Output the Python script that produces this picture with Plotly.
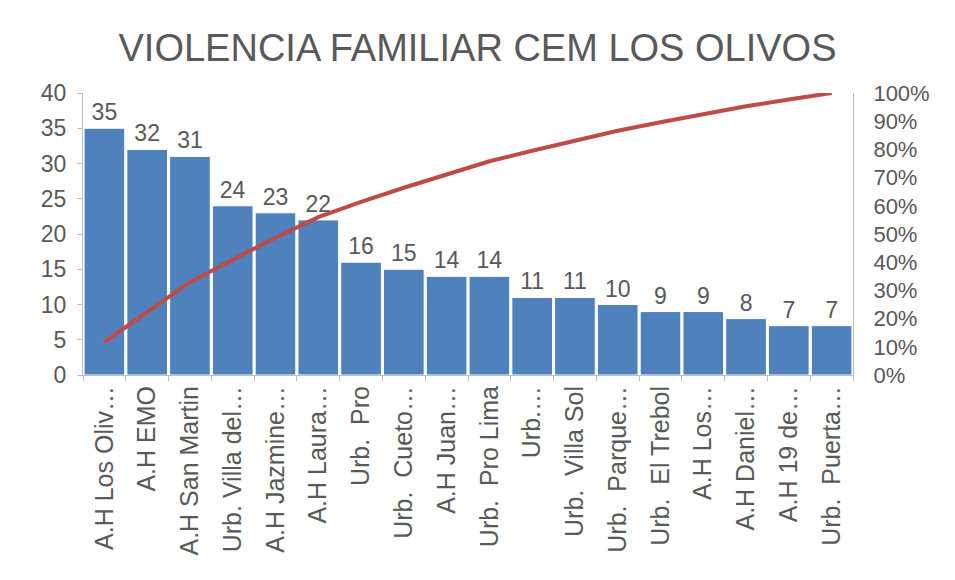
import plotly.graph_objects as go

categories = ["A.H Los Oliv…", "A.H EMO", "A.H San Martin", "Urb. Villa del…", "A.H Jazmine…",
              "A.H Laura…", "Urb.  Pro", "Urb.  Cueto…", "A.H Juan…", "Urb.  Pro Lima",
              "Urb.…", "Urb.  Villa Sol", "Urb.  Parque…", "Urb.  El Trebol", "A.H Los…",
              "A.H Daniel…", "A.H 19 de…", "Urb.  Puerta…"]
counts = [35, 32, 31, 24, 23, 22, 16, 15, 14, 14, 11, 11, 10, 9, 9, 8, 7, 7]
cumulative_pct = [0.117, 0.225, 0.329, 0.409, 0.487, 0.560, 0.614, 0.664, 0.711, 0.758,
                  0.795, 0.832, 0.866, 0.896, 0.926, 0.953, 0.977, 1.000]

title_text = "VIOLENCIA FAMILIAR CEM LOS OLIVOS"
FONT = "Liberation Sans, Arial, sans-serif"
GREY = "#595959"
AXIS = "#BFBFBF"

W, H = 939, 564

fig = go.Figure()
fig.add_trace(go.Bar(
    x=categories, y=counts, text=[str(v) for v in counts], textposition="outside",
    textfont=dict(size=23, color=GREY, family=FONT), cliponaxis=False,
    marker=dict(color="#4F81BD", line=dict(color="white", width=1)),
    showlegend=False,
))
fig.add_trace(go.Scatter(
    x=categories, y=cumulative_pct, yaxis="y2", mode="lines",
    line=dict(color="#BE4B48", width=4), showlegend=False,
))

fig.update_layout(
    width=W, height=H,
    margin=dict(l=75, r=94, t=85, b=197, autoexpand=False),
    paper_bgcolor="white", plot_bgcolor="white",
    bargap=0.05,
    font=dict(family=FONT, color=GREY, size=22),
    title=dict(text=title_text, x=0.5, xref="container", xanchor="center",
               y=1 - 40 / H, yref="container", yanchor="middle",
               font=dict(size=38, color=GREY, family=FONT)),
    xaxis=dict(tickangle=-90, showline=True, linecolor=AXIS, ticks="outside",
               tickson="boundaries", ticklen=5, tickcolor=AXIS, automargin=False,
               tickfont=dict(size=25, color=GREY), showgrid=False),
    yaxis=dict(range=[0, 40], dtick=5, showline=True, linecolor=AXIS, ticks="outside",
               ticklen=5, tickcolor=AXIS, showgrid=False, zeroline=False, automargin=False,
               tickfont=dict(size=23, color=GREY), ticklabelstandoff=6),
    yaxis2=dict(range=[0, 1], dtick=0.1, tickformat=".0%", overlaying="y", side="right",
                showline=True, linecolor=AXIS, ticks="", showgrid=False, zeroline=False,
                automargin=False,
                tickfont=dict(size=22, color=GREY), ticklabelstandoff=15),
)

fig.write_html("out.html")
